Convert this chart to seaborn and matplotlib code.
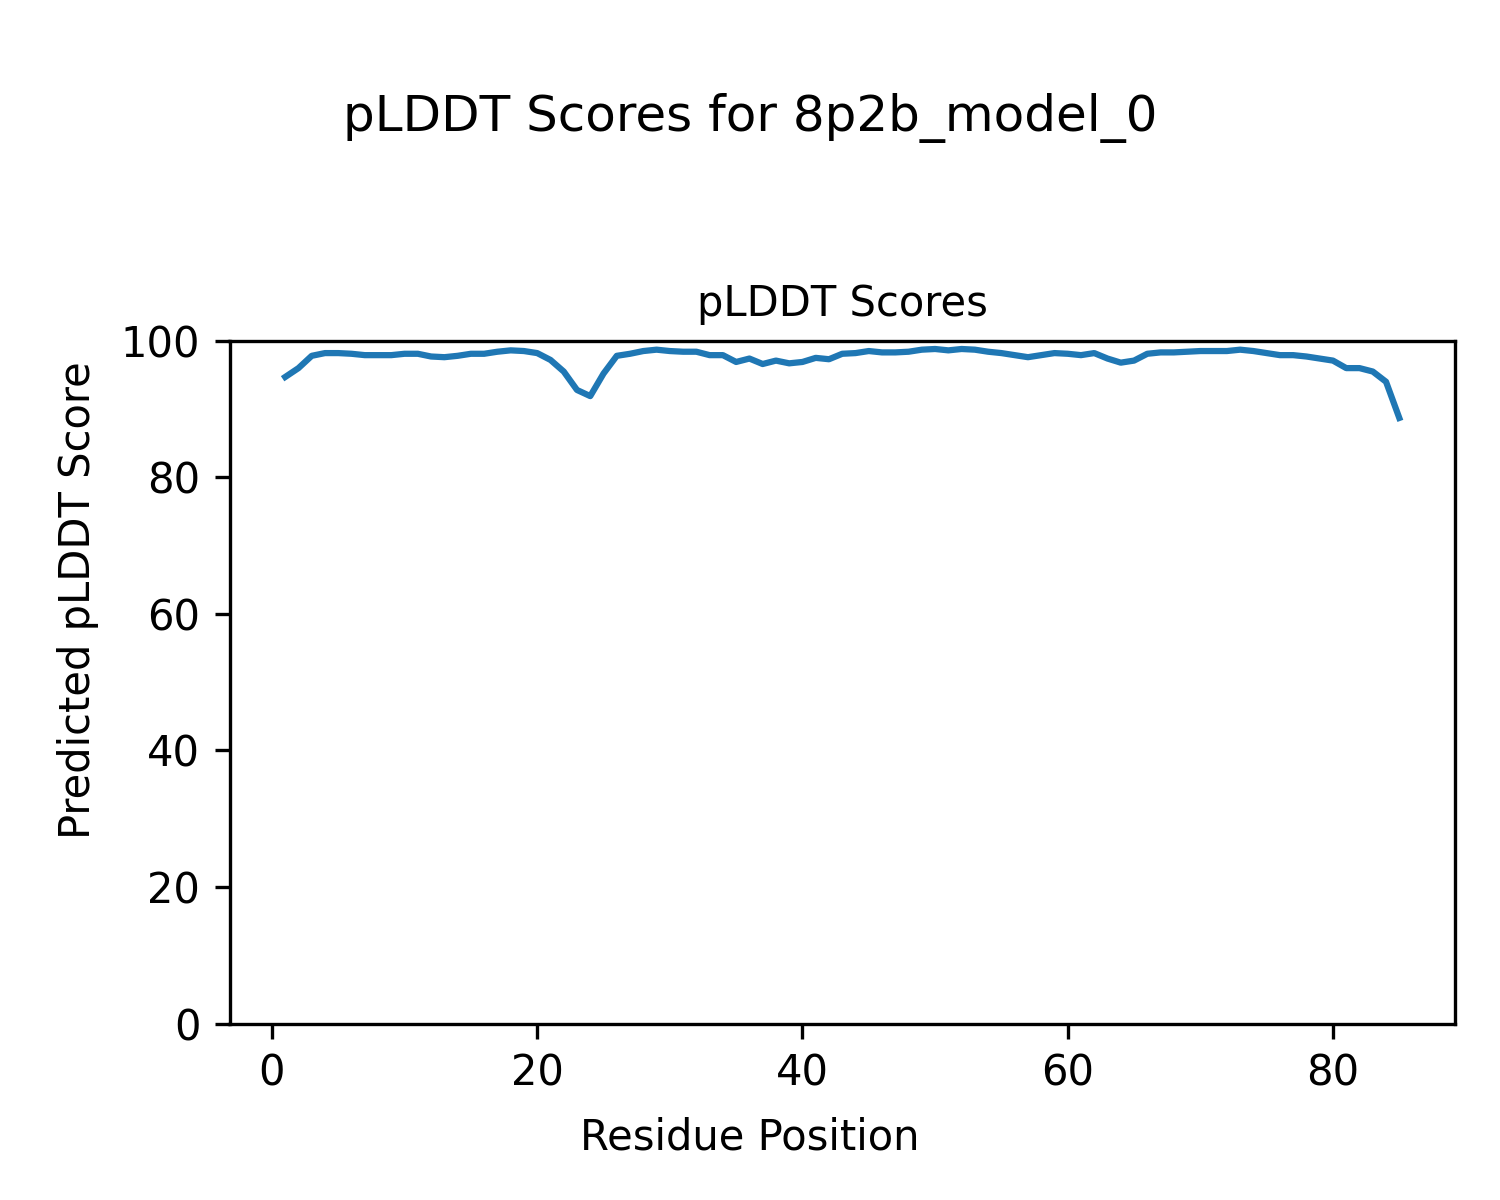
import matplotlib
matplotlib.use('Agg')
import matplotlib.pyplot as plt
import seaborn as sns
import pandas as pd
import numpy as np

# Residue positions and the pLDDT
residues = list(range(1, 86))
plddt = [94.7, 96.0, 97.8, 98.2, 98.2, 98.1, 97.9, 97.9, 97.9, 98.1,
         98.1, 97.7, 97.6, 97.8, 98.1, 98.1, 98.4, 98.6, 98.5, 98.2,
         97.2, 95.5, 92.8, 91.9, 95.2, 97.8, 98.1, 98.5, 98.7, 98.5,
         98.4, 98.4, 97.9, 97.9, 96.9, 97.4, 96.6, 97.1, 96.7, 96.9,
         97.5, 97.3, 98.1, 98.2, 98.5, 98.3, 98.3, 98.4, 98.7, 98.8,
         98.6, 98.8, 98.7, 98.4, 98.2, 97.9, 97.6, 97.9, 98.2, 98.1,
         97.9, 98.2, 97.4, 96.8, 97.1, 98.1, 98.3, 98.3, 98.4, 98.5,
         98.5, 98.5, 98.7, 98.5, 98.2, 97.9, 97.9, 97.7, 97.4, 97.1,
         96.0, 96.0, 95.5, 94.0, 88.7]

df = pd.DataFrame({'residue': residues, 'plddt': plddt})

fig, ax = plt.subplots(figsize=(5, 4), dpi=300)
fig.subplots_adjust(left=0.153, right=0.97, top=0.716, bottom=0.147)
fig.suptitle('pLDDT Scores for 8p2b_model_0', fontsize=12, y=0.902, va='center')

sns.lineplot(data=df, x='residue', y='plddt', ax=ax, color='#1f77b4')
ax.set_ylim(0, 100)
ax.set_title('pLDDT Scores', fontsize=10)
ax.set_xlabel('')
ax.set_ylabel('')

# figure-level axis labels, centred on the figure
fig.supxlabel('Residue Position', fontsize=10, y=0.052, va='center')
fig.supylabel('Predicted pLDDT Score', fontsize=10, x=0.052, ha='center')

fig.savefig('out.png', dpi=300)
